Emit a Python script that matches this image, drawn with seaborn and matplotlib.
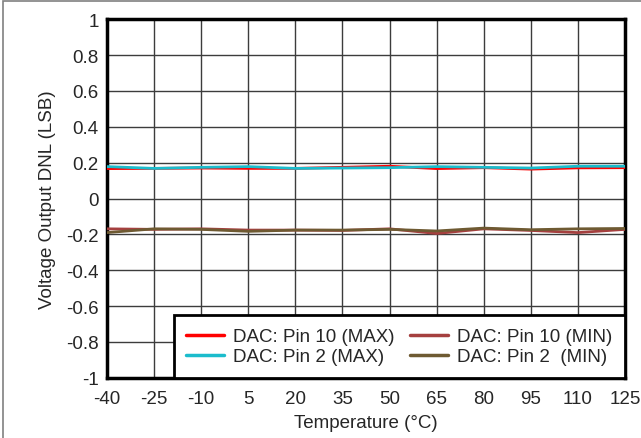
import pandas as pd
import seaborn as sns
import matplotlib.pyplot as plt
from matplotlib.patches import Rectangle

# Temperature points (x axis)
temps = [-40, -25, -10, 5, 20, 35, 50, 65, 80, 95, 110, 125]

# DNL values
pin10_max = [0.167, 0.168, 0.170, 0.168, 0.168, 0.174, 0.180, 0.167, 0.172, 0.164, 0.171, 0.172]
pin2_max = [0.178, 0.168, 0.174, 0.178, 0.168, 0.170, 0.172, 0.178, 0.174, 0.170, 0.180, 0.180]
pin10_min = [-0.169, -0.172, -0.169, -0.176, -0.176, -0.178, -0.169, -0.195, -0.169, -0.178, -0.190, -0.172]
pin2_min = [-0.190, -0.169, -0.172, -0.183, -0.176, -0.176, -0.172, -0.181, -0.165, -0.174, -0.169, -0.167]

labels = ['DAC: Pin 10 (MAX)', 'DAC: Pin 2 (MAX)', 'DAC: Pin 10 (MIN)', 'DAC: Pin 2  (MIN)']
colors = ['#ff0000', '#1bbccc', '#a5403f', '#6e5a32']
yticks = [-1, -0.8, -0.6, -0.4, -0.2, 0, 0.2, 0.4, 0.6, 0.8, 1]
ytick_labels = ['-1', '-0.8', '-0.6', '-0.4', '-0.2', '0', '0.2', '0.4', '0.6', '0.8', '1']

# Build long-form table for seaborn
frames = []
for lab, vals in zip(labels, [pin10_max, pin2_max, pin10_min, pin2_min]):
    frames.append(pd.DataFrame({'Temp': temps, 'DNL': vals, 'Series': lab}))
df = pd.concat(frames, ignore_index=True)

sns.set_style('white')
plt.rcParams['font.family'] = ['Liberation Sans', 'DejaVu Sans']
fs = 13.5

fig = plt.figure(figsize=(6.41, 4.39), dpi=100)
ax = fig.add_axes([0.167, 0.137, 0.808, 0.817])

sns.lineplot(data=df, x='Temp', y='DNL', hue='Series', hue_order=labels,
             palette=colors, linewidth=2, ax=ax, legend=False, zorder=3)

ax.set_xlim(-40, 125)
ax.set_ylim(-1, 1)
ax.set_xticks(temps)
ax.set_xticklabels([str(t) for t in temps])
ax.set_yticks(yticks)
ax.set_yticklabels(ytick_labels)
ax.tick_params(axis='both', labelsize=fs, length=0)
ax.tick_params(axis='x', pad=9)
ax.tick_params(axis='y', pad=6)
ax.grid(True, color='#3c3c3c', linewidth=1)
ax.set_axisbelow(True)
for sp in ax.spines.values():
    sp.set_color('black')
    sp.set_linewidth(2.5)
    sp.set_visible(True)

ax.set_xlabel('Temperature (°C)', fontsize=fs, labelpad=5)
ax.set_ylabel('Voltage Output DNL (LSB)', fontsize=fs, labelpad=7)

handles = [plt.Line2D([], [], color=c, linewidth=2.5) for c in colors]
leg = ax.legend(handles, labels, loc='lower right', bbox_to_anchor=(1, 0), ncol=2,
                fontsize=fs, frameon=True, fancybox=False, borderaxespad=0,
                handlelength=2.0, columnspacing=0.82, handletextpad=0.5,
                labelspacing=0.15, borderpad=0.68)
leg.get_frame().set_edgecolor('black')
leg.get_frame().set_linewidth(2)
leg.get_frame().set_alpha(1)
leg.set_zorder(5)

# outer grey frame
fig.patches.append(Rectangle((0.005, -0.05), 1.1, 1.045, transform=fig.transFigure,
                             fill=False, edgecolor='#808080', linewidth=1.2))

fig.savefig('out.png', dpi=100)
